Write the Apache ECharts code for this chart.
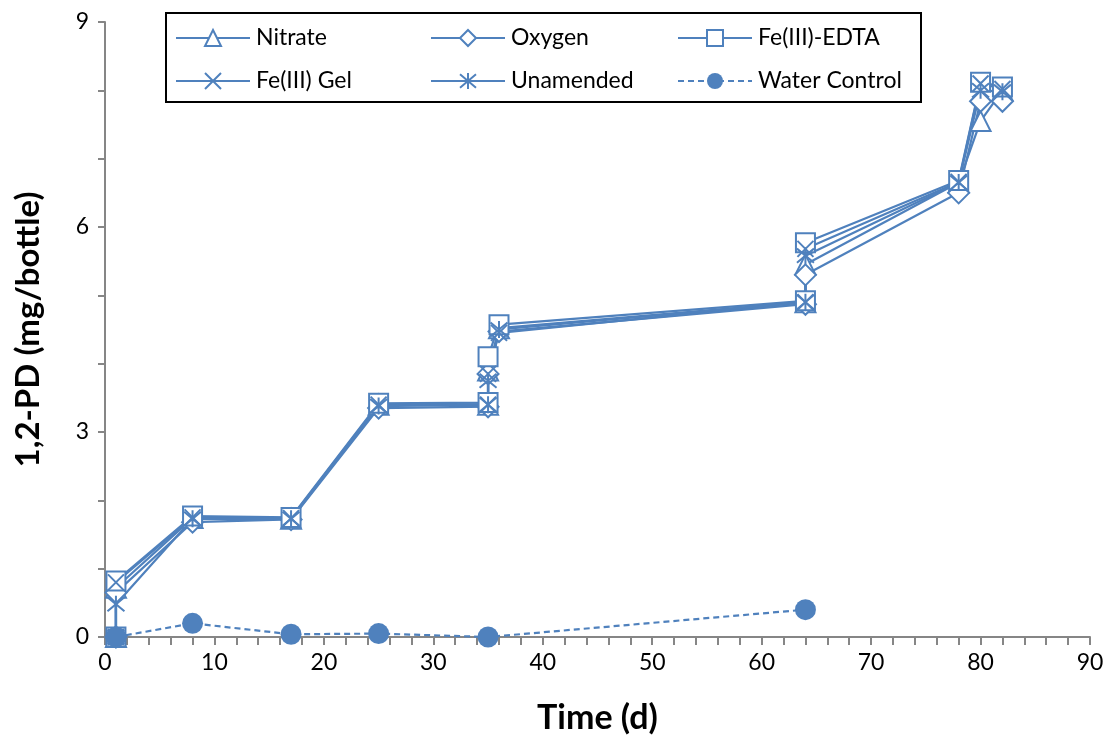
<!DOCTYPE html>
<html>
<head>
<meta charset="utf-8">
<script src="https://cdn.jsdelivr.net/npm/echarts@6/dist/echarts.min.js"></script>
<style>
html,body{margin:0;padding:0;background:#fff;}
#chart{width:1111px;height:740px;}
</style>
</head>
<body>
<div id="chart"></div>
<script>
// ---- data ----
const days = [1, 1, 8, 17, 25, 35, 35, 36, 64, 64, 78, 80, 82];
const nitrate   = [0, 0.72, 1.74, 1.73, 3.40, 3.40, 3.90, 4.52, 4.90, 5.45, 6.65, 7.55, 8.00];
const oxygen    = [0, 0.65, 1.68, 1.72, 3.35, 3.37, 3.85, 4.47, 4.87, 5.30, 6.50, 7.84, 7.84];
const feEdta    = [0, 0.82, 1.77, 1.75, 3.42, 3.43, 4.10, 4.57, 4.92, 5.77, 6.68, 8.12, 8.05];
const feGel     = [0, 0.80, 1.75, 1.74, 3.40, 3.40, 3.85, 4.45, 4.90, 5.68, 6.66, 8.10, 8.02];
const unamended = [0, 0.48, 1.73, 1.73, 3.38, 3.40, 3.75, 4.50, 4.90, 5.58, 6.65, 8.00, 7.98];
const waterDays = [1, 8, 17, 25, 35, 64];
const water     = [0, 0.20, 0.04, 0.05, 0, 0.40];
const seriesNames = ['Nitrate', 'Oxygen', 'Fe(III)-EDTA', 'Fe(III) Gel', 'Unamended', 'Water Control'];
const xTicks = [0, 10, 20, 30, 40, 50, 60, 70, 80, 90];
const yTicks = [0, 3, 6, 9];

const BLUE = '#4F81BD';
const FONT = 'Lato';
const pair = (xs, ys) => xs.map((x, i) => [x, ys[i]]);

const X_PATH = 'path://M0,0L10,10M0,10L10,0';
const AST_PATH = 'path://M0,1L10,11M0,11L10,1M5,0L5,12';

function lineSeries(name, vals, symbol, size, fill) {
  return {
    name: name,
    type: 'line',
    data: pair(days, vals),
    symbol: symbol,
    symbolSize: size,
    showAllSymbol: true,
    lineStyle: { color: BLUE, width: 2.2 },
    itemStyle: { color: fill, borderColor: BLUE, borderWidth: 2 },
    emphasis: { disabled: true },
    animation: false
  };
}

const series = [
  lineSeries(seriesNames[0], nitrate, 'triangle', 20, '#ffffff'),
  lineSeries(seriesNames[1], oxygen, 'diamond', 21, '#ffffff'),
  lineSeries(seriesNames[2], feEdta, 'rect', 19, '#ffffff'),
  lineSeries(seriesNames[3], feGel, X_PATH, 16, 'none'),
  lineSeries(seriesNames[4], unamended, AST_PATH, 17, 'none'),
  {
    name: seriesNames[5],
    type: 'line',
    data: pair(waterDays, water),
    symbol: 'circle',
    symbolSize: 21,
    lineStyle: { color: BLUE, width: 2.2, type: [6, 4] },
    itemStyle: { color: BLUE, borderColor: BLUE, borderWidth: 0 },
    emphasis: { disabled: true },
    animation: false
  }
];

const legendPos = [
  [175, 26], [430, 26], [677, 26],
  [175, 69], [430, 69], [677, 69]
];
const legends = seriesNames.map((n, i) => ({
  data: [n],
  left: legendPos[i][0],
  top: legendPos[i][1],
  padding: 0,
  itemWidth: 74,
  itemHeight: 20,
  selectedMode: false,
  textStyle: { fontFamily: FONT, fontSize: 23, color: '#000', lineHeight: 24, padding: [0, 0, 0, 1] }
}));

const chart = echarts.init(document.getElementById('chart'), null, { renderer: 'canvas' });
chart.setOption({
  animation: false,
  backgroundColor: '#fff',
  grid: { left: 105, right: 21, top: 22, bottom: 103, containLabel: false, outerBoundsMode: 'none' },
  xAxis: {
    type: 'value',
    min: xTicks[0],
    max: xTicks[xTicks.length - 1],
    interval: 10,
    name: 'Time (d)',
    nameLocation: 'middle',
    nameGap: 64,
    nameTextStyle: { fontFamily: FONT, fontSize: 34, fontWeight: 'bold', color: '#000' },
    axisLine: { show: true, lineStyle: { color: '#868686', width: 2 } },
    axisTick: { show: true, length: 8, lineStyle: { color: '#868686', width: 2 } },
    minorTick: { show: true, splitNumber: 5, length: 8, lineStyle: { color: '#868686', width: 2 } },
    axisLabel: { fontFamily: FONT, fontSize: 23, color: '#000', margin: 14 },
    splitLine: { show: false }
  },
  yAxis: {
    type: 'value',
    min: yTicks[0],
    max: yTicks[yTicks.length - 1],
    interval: 3,
    name: '1,2-PD (mg/bottle)',
    nameLocation: 'middle',
    nameGap: 60,
    nameTextStyle: { fontFamily: FONT, fontSize: 33, fontWeight: 'bold', color: '#000' },
    axisLine: { show: true, lineStyle: { color: '#868686', width: 2 } },
    axisTick: { show: true, length: 7, lineStyle: { color: '#868686', width: 2 } },
    minorTick: { show: true, splitNumber: 3, length: 7, lineStyle: { color: '#868686', width: 2 } },
    axisLabel: { fontFamily: FONT, fontSize: 23, color: '#000', margin: 16 },
    splitLine: { show: false }
  },
  legend: legends,
  graphic: [{
    type: 'rect',
    shape: { x: 166, y: 13, width: 755, height: 89 },
    style: { fill: 'none', stroke: '#000', lineWidth: 2 },
    z: 100
  }],
  series: series
});
</script>
</body>
</html>
